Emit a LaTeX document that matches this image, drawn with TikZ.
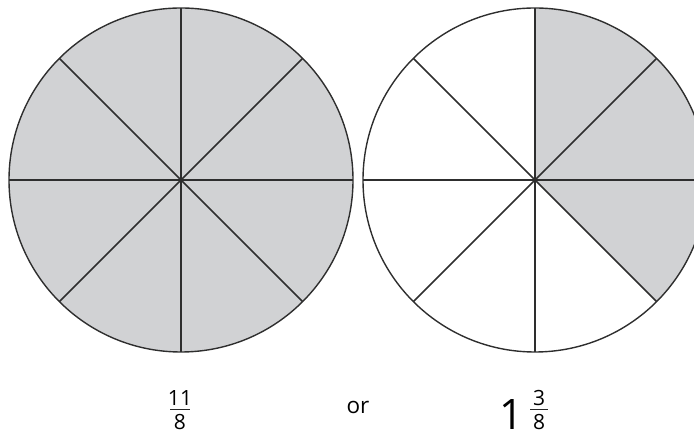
\documentclass[tikz,border=0pt]{standalone}
\usepackage{fontspec}
\setmainfont{Open Sans}
\definecolor{piegray}{HTML}{D1D2D4}
\definecolor{spokegray}{HTML}{2E2E2E}

\begin{document}
\begin{tikzpicture}[x=1pt,y=1pt,line width=1.4pt]
\tikzset{wedge/.style={fill=piegray,draw=none},
  spoke/.style={draw=spokegray,line width=1.6pt},
  rim/.style={draw=spokegray,line width=1.4pt},
  digit/.style={inner sep=0pt,anchor=base,text depth=0pt,font=\fontsize{21}{24}\selectfont},
  fracbar/.style={draw=black!85,line width=1.5pt}}
\useasboundingbox (0,0) rectangle (694,436);
\clip (0,0) rectangle (694,436);
% ---------- left circle: 11 eighths, all shaded ----------
\coordinate (cl) at (181,256);
\fill[wedge] (cl) circle[radius=172];
\foreach \a in {0,45,90,135} \draw[spoke] (cl) ++(\a:172) -- ++(\a+180:344);
\draw[rim] (cl) circle[radius=172];
% ---------- right circle: 3 of 8 shaded ----------
\coordinate (cr) at (535,256);
\fill[wedge] (cr) -- ++(-45:172) arc[start angle=-45,end angle=90,radius=172] -- cycle;
\foreach \a in {0,45,90,135} \draw[spoke] (cr) ++(\a:172) -- ++(\a+180:344);
\draw[rim] (cr) circle[radius=172];
% ---------- labels ----------
\node[digit] (lnum) at (180,30) {11};
\node[digit] (lden) at (180,6) {8};
\coordinate (lbarL) at (170,26.5); \coordinate (lbarR) at (190,26.5);
\draw[fracbar] (lbarL) -- (lbarR);
\node[digit,font=\fontsize{22.5}{26}\selectfont] (orword) at (358,22) {or};
\node[digit,font=\fontsize{42}{46}\selectfont] (whole) at (512,6) {1};
\node[digit] (rnum) at (539,30) {3};
\node[digit] (rden) at (539,6) {8};
\coordinate (rbarL) at (530,26.5); \coordinate (rbarR) at (548,26.5);
\draw[fracbar] (rbarL) -- (rbarR);
\end{tikzpicture}
\end{document}
